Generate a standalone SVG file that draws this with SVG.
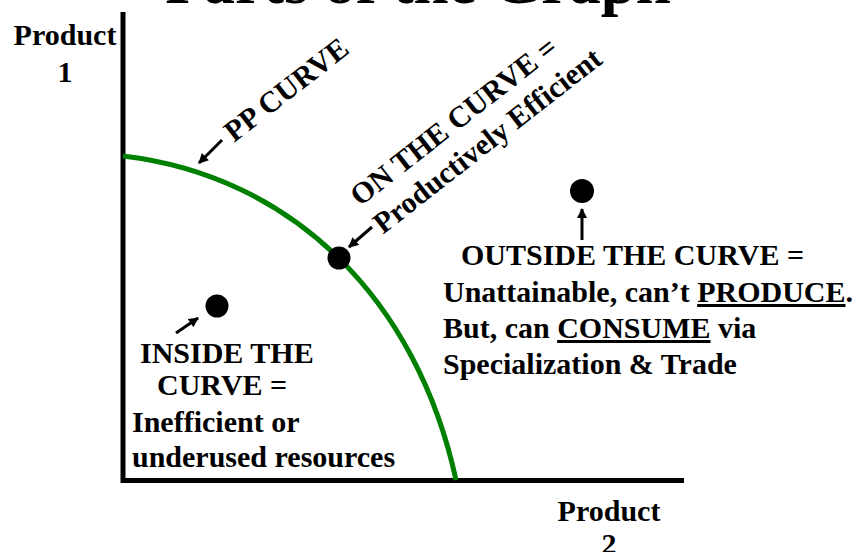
<svg xmlns="http://www.w3.org/2000/svg" width="860" height="552" viewBox="0 0 860 552">
<defs>
<style>
text{font-family:"Liberation Serif","Times New Roman",serif;font-weight:bold;fill:#000;}
.t30{font-size:30px;}
.u{text-decoration:underline;}
.axis{fill:none;stroke:#000;stroke-width:5;stroke-linejoin:miter;}
.curve{fill:none;stroke:#008000;stroke-width:5;}
.arrow{stroke:#000;stroke-width:3;fill:none;marker-end:url(#ah);}
.dot{fill:#000;}
</style>
<marker id="ah" markerUnits="userSpaceOnUse" viewBox="0 0 10 10" markerWidth="11" markerHeight="10" refX="9" refY="5" orient="auto">
<path d="M0,0 L10,5 L0,10 z" fill="#000"/>
</marker>
</defs>
<rect width="860" height="552" fill="#fff"/>

<g id="title"><text x="418" y="3" text-anchor="middle" style="font-size:63px">Parts of the Graph</text></g>

<g id="axes">
<polyline class="axis" points="123,12 123,480.5 684,480.5"/>
</g>

<g id="label-product1">
<text class="t30" x="65" y="45" text-anchor="middle">Product</text>
<text class="t30" x="65" y="82" text-anchor="middle">1</text>
</g>
<g id="label-product2">
<text class="t30" x="609" y="521" text-anchor="middle">Product</text>
<text class="t30" x="609" y="554" text-anchor="middle">2</text>
</g>

<g id="pp-curve">
<path class="curve" d="M123,156 C293,176 417,300 456,480"/>
</g>

<g id="label-pp">
<text class="t30" transform="translate(234,143) rotate(-38)">PP CURVE</text>
</g>

<g id="point-on"><circle class="dot" cx="339" cy="258" r="11.5"/></g>
<g id="label-on">
<g transform="translate(360,207) rotate(-38)">
<text class="t30" x="0" y="0">ON THE CURVE =</text>
<text class="t30" x="1" y="36">Productively Efficient</text>
</g>
</g>

<g id="point-inside"><circle class="dot" cx="217" cy="306" r="11.5"/></g>
<g id="label-inside">
<text class="t30" x="140" y="363">INSIDE THE</text>
<text class="t30" x="157" y="395">CURVE =</text>
<text class="t30" x="132" y="432">Inefficient or</text>
<text class="t30" x="132" y="467">underused resources</text>
</g>

<g id="point-outside"><circle class="dot" cx="582" cy="191" r="12"/></g>
<g id="label-outside">
<text class="t30" x="461" y="265">OUTSIDE THE CURVE =</text>
<text class="t30" x="443" y="302">Unattainable, can’t <tspan class="u">PRODUCE</tspan>.</text>
<text class="t30" x="443" y="338">But, can <tspan class="u">CONSUME</tspan> via</text>
<text class="t30" x="443" y="374">Specialization &amp; Trade</text>
</g>

<g id="connectors">
<line class="arrow" x1="222" y1="140" x2="199" y2="163"/>
<line class="arrow" x1="372" y1="227" x2="349" y2="247"/>
<line class="arrow" x1="176" y1="333" x2="198" y2="318"/>
<line class="arrow" x1="582" y1="240" x2="582" y2="209"/>
</g>
</svg>
